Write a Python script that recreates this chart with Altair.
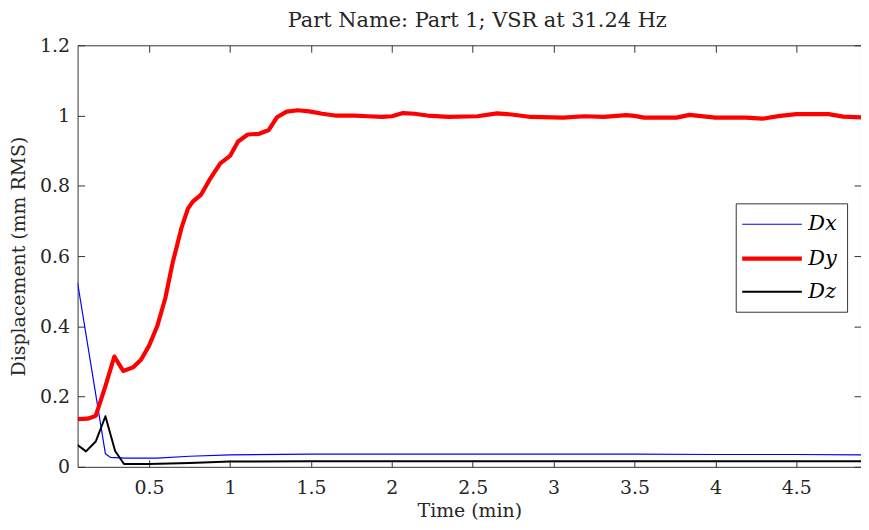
import altair as alt
import pandas as pd

# ---- data ----
series_names = ["Dx", "Dy", "Dz"]
series_colors = ["#0000ff", "#ff0000", "#000000"]

dx_time = [0.058, 0.23, 0.26, 0.35, 0.55, 0.75, 1.0, 1.5, 2.0, 2.5, 3.0, 3.5, 4.0, 4.5, 4.9]
dx_val = [0.524, 0.037, 0.027, 0.025, 0.025, 0.030, 0.034, 0.036, 0.036, 0.036, 0.036, 0.036, 0.035, 0.035, 0.034]

dy_time = [0.058, 0.12, 0.17, 0.23, 0.285, 0.34, 0.40, 0.45, 0.50, 0.55, 0.60, 0.645, 0.70, 0.74,
           0.77, 0.82, 0.88, 0.94, 1.0, 1.05, 1.11, 1.18, 1.24, 1.29, 1.35, 1.42, 1.49, 1.57,
           1.65, 1.77, 1.85, 1.94, 2.0, 2.07, 2.14, 2.22, 2.35, 2.53, 2.65, 2.74, 2.86, 3.06,
           3.19, 3.31, 3.45, 3.50, 3.56, 3.76, 3.84, 4.0, 4.19, 4.29, 4.40, 4.50, 4.70, 4.79, 4.9]
dy_val = [0.136, 0.137, 0.145, 0.23, 0.314, 0.273, 0.283, 0.305, 0.345, 0.40, 0.48, 0.58, 0.68, 0.735,
          0.755, 0.774, 0.822, 0.864, 0.885, 0.926, 0.946, 0.948, 0.959, 0.995, 1.011, 1.015, 1.012, 1.005,
          1.0, 1.0, 0.998, 0.996, 0.998, 1.007, 1.005, 1.0, 0.996, 0.998, 1.006, 1.003, 0.996, 0.994,
          0.998, 0.996, 1.001, 0.999, 0.994, 0.994, 1.002, 0.994, 0.994, 0.991, 0.999, 1.004, 1.004, 0.997, 0.995]

dz_time = [0.058, 0.11, 0.17, 0.23, 0.29, 0.345, 0.5, 0.75, 1.0, 1.5, 2.0, 2.5, 3.0, 3.5, 4.0, 4.5, 4.9]
dz_val = [0.062, 0.044, 0.072, 0.144, 0.045, 0.008, 0.008, 0.011, 0.015, 0.016, 0.016, 0.016, 0.016,
          0.016, 0.016, 0.016, 0.016]

x_ticks = [0.5, 1, 1.5, 2, 2.5, 3, 3.5, 4, 4.5]
y_ticks = [0, 0.2, 0.4, 0.6, 0.8, 1, 1.2]

rows = []
for name, ts, vs in zip(series_names, [dx_time, dy_time, dz_time], [dx_val, dy_val, dz_val]):
    for i, (t, v) in enumerate(zip(ts, vs)):
        rows.append({"time": t, "disp": v, "series": name, "idx": i})
df = pd.DataFrame(rows)

FONT = "DejaVu Serif"
TXT = "#262626"
TICK = 7

x_scale = alt.Scale(domain=[0.058, 4.9], nice=False, zero=False)
y_scale = alt.Scale(domain=[0, 1.2], nice=False, zero=False)

legend = alt.Legend(
    orient="none", legendX=662, legendY=159, title=None,
    symbolType="M-3,0H3", symbolSize=400, symbolOffset=14, labelOffset=24,
    labelFont=FONT, labelFontSize=21, labelFontStyle="italic", labelColor="#000000",
    labelExpr="datum.label + '\u00a0\u00a0'",
    padding=10, rowPadding=12, strokeColor="#333333", fillColor="white",
)

lines = alt.Chart(df).mark_line(clip=True, strokeJoin="round").encode(
    x=alt.X("time:Q", scale=x_scale,
            axis=alt.Axis(orient="bottom", values=x_ticks, format="~g", title="Time (min)",
                          offset=-TICK, tickSize=TICK, domain=False, grid=False,
                          labelPadding=12, titlePadding=4)),
    y=alt.Y("disp:Q", scale=y_scale,
            axis=alt.Axis(orient="left", values=y_ticks, format="~g", title="Displacement (mm RMS)",
                          offset=-TICK, tickSize=TICK, domain=False, grid=False,
                          labelPadding=8, titlePadding=11)),
    color=alt.Color("series:N", scale=alt.Scale(domain=series_names, range=series_colors), legend=legend),
    strokeWidth=alt.StrokeWidth("series:N",
                                scale=alt.Scale(type="ordinal", domain=series_names, range=[1.2, 4.2, 2]),
                                legend=legend),
    order="idx:Q",
)

frame = alt.Chart(df).mark_point(opacity=0).encode(
    x=alt.X("time:Q", scale=x_scale,
            axis=alt.Axis(orient="top", values=x_ticks, labels=False, title="",
                          offset=-TICK, tickSize=TICK, domain=False, grid=False)),
    y=alt.Y("disp:Q", scale=y_scale,
            axis=alt.Axis(orient="right", values=y_ticks, labels=False, title="",
                          offset=-TICK, tickSize=TICK, domain=False, grid=False)),
)

chart = alt.layer(lines, frame).resolve_axis(x="independent", y="independent").properties(
    width=788, height=424,
    autosize=alt.AutoSizeParams(type="none"),
    padding={"left": 70, "top": 36, "right": 0, "bottom": 54},
    title=alt.TitleParams("Part Name: Part 1; VSR at 31.24 Hz", font=FONT, fontSize=21,
                          fontWeight="normal", color=TXT, offset=5, dx=8),
).configure_view(
    stroke="#333333", strokeWidth=1
).configure_axis(
    labelFont=FONT, labelFontSize=19, labelColor=TXT,
    titleFont=FONT, titleFontSize=19, titleFontWeight="normal", titleColor=TXT,
    tickColor="#333333", tickWidth=1,
)

chart.save("out.html", embed_options={"renderer": "svg", "actions": False})
